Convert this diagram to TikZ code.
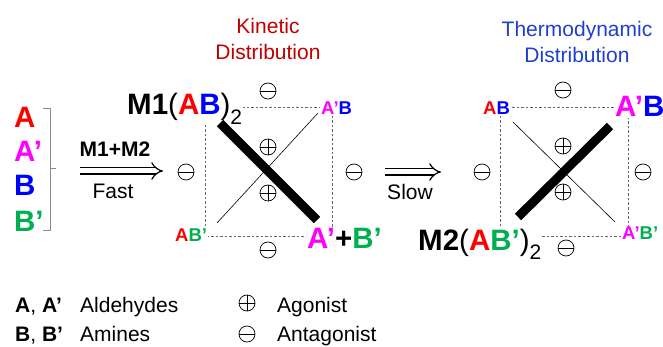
\documentclass[tikz,border=0pt]{standalone}
\usepackage{fontspec}
\setmainfont{Liberation Sans}
\usepackage{xcolor}
\usetikzlibrary{arrows.meta}

\definecolor{molRed}{HTML}{FF0000}
\definecolor{molMag}{HTML}{FF00FF}
\definecolor{molBlue}{HTML}{0000FF}
\definecolor{molGreen}{HTML}{00B050}
\definecolor{kinRed}{HTML}{C00000}
\definecolor{thermBlue}{HTML}{1F3FCF}

\newcommand{\subtwo}{\raisebox{-0.32em}{\fontsize{21}{21}\selectfont\mdseries 2}}
\newcommand{\aR}{{\color{molRed}A}}
\newcommand{\aM}{{\color{molMag}A’}}
\newcommand{\bB}{{\color{molBlue}B}}
\newcommand{\bG}{{\color{molGreen}B’}}

\begin{document}
\begin{tikzpicture}[x=1pt,y=-1pt,every node/.style={inner sep=1pt},
  big/.style={font=\fontsize{29.5}{30}\selectfont\bfseries,anchor=base west},
  small/.style={font=\fontsize{18.5}{20}\selectfont\bfseries,anchor=base west,fill=white},
  txt/.style={font=\fontsize{21}{26}\selectfont,align=center},
  cage/.style={draw=black!60,line width=0.8pt,dash pattern=on 2.5pt off 2pt},
  anta/.style={circle,draw,line width=0.7pt,minimum size=16pt,inner sep=0pt,
    path picture={\draw[line width=0.7pt] (path picture bounding box.west) -- (path picture bounding box.east);}},
  ago/.style={circle,draw,line width=0.7pt,minimum size=16pt,inner sep=0pt,
    path picture={\draw[line width=0.7pt] (path picture bounding box.west) -- (path picture bounding box.east);
      \draw[line width=0.7pt] (path picture bounding box.north) -- (path picture bounding box.south);}},
  goes/.style={double,double distance=5pt,line width=1.2pt,-{Implies}}]
\useasboundingbox (0,0) rectangle (663,347);

% building blocks
\node[big] (bA) at (13,128) {\aR};
\node[big] (bA2) at (13,162) {\aM};
\node[big] (bB) at (13,196) {\bB};
\node[big] (bB2) at (13,231) {\bG};
\draw[black!45,line width=0.8pt] (43,108) -- (50,108) -- (50,230) -- (43,230);
\draw[black!45,line width=0.8pt] (50,168) -- (56,168);

% fast step
\coordinate (fastS) at (80,171);
\coordinate (fastE) at (163,171);
\draw[goes] (fastS) -- (fastE);
\node[txt,font=\fontsize{21}{26}\selectfont\bfseries,anchor=base] (mix) at (115,157) {M1+M2};
\node[txt,anchor=base] (fast) at (113,199) {Fast};

% kinetic cage
\node[txt,text=kinRed] (kinT) at (268,39) {Kinetic\\Distribution};
\coordinate (kTL) at (205,107);
\coordinate (kBR) at (332,236);
\draw[cage] (kTL) rectangle (kBR);
\node[big,font=\fontsize{29.5}{30}\selectfont,fill=white] (m1) at (126,115) {\textbf{M1}(\textbf{\aR\bB})\subtwo};
\node[small] (kAB) at (320,115) {\aM\bB};
\node[small] (kAB2) at (174,241) {\aR\bG};
\node[big,fill=white] (kSum) at (306,248) {\aM+\bG};
\coordinate (kT1) at (217,223);
\coordinate (kT2) at (318,113);
\coordinate (kW1) at (220,123);
\coordinate (kW2) at (317,220);
\draw[line width=0.6pt] (kT1) -- (kT2);
\draw[line width=9pt] (kW1) -- (kW2);
\node[anta] (kN) at (268,91) {};
\node[anta] (kW) at (186,172) {};
\node[anta] (kE) at (354,172) {};
\node[anta] (kS) at (268,250) {};
\node[ago] (kP1) at (268,147) {};
\node[ago] (kP2) at (268,193) {};

% slow step
\coordinate (slowS) at (385,172);
\coordinate (slowE) at (441,172);
\draw[goes] (slowS) -- (slowE);
\node[txt,anchor=base] (slow) at (410,200) {Slow};

% thermodynamic cage
\node[txt,text=thermBlue] (thT) at (577,42) {Thermodynamic\\Distribution};
\coordinate (tTL) at (500,107);
\coordinate (tBR) at (628,236);
\draw[cage] (tTL) rectangle (tBR);
\node[small] (tAB) at (482,115) {\aR\bB};
\node[big,fill=white] (tAB3) at (614,117) {\aM\bB};
\node[small] (tAB4) at (621,240) {\aM\bG};
\node[big,font=\fontsize{29.5}{30}\selectfont,fill=white] (m2) at (417,250) {\textbf{M2}(\textbf{\aR\bG})\subtwo};
\coordinate (tT1) at (513,122);
\coordinate (tT2) at (615,222);
\coordinate (tW1) at (518,217);
\coordinate (tW2) at (610,126);
\draw[line width=0.6pt] (tT1) -- (tT2);
\draw[line width=9pt] (tW1) -- (tW2);
\node[anta] (tN) at (563,90) {};
\node[anta] (tW) at (482,172) {};
\node[anta] (tE) at (643,172) {};
\node[anta] (tS) at (566,248) {};
\node[ago] (tP1) at (563,146) {};
\node[ago] (tP2) at (563,192) {};

% legend
\node[txt,anchor=base west] (lgA) at (14,312) {\textbf{A}, \textbf{A’}};
\node[txt,anchor=base west] (lgAld) at (79,312) {Aldehydes};
\node[txt,anchor=base west] (lgB) at (14,341) {\textbf{B}, \textbf{B’}};
\node[txt,anchor=base west] (lgAm) at (79,341) {Amines};
\node[ago] (lgP) at (247,303) {};
\node[txt,anchor=base west] (lgAgo) at (276,312) {Agonist};
\node[anta] (lgM) at (247,334) {};
\node[txt,anchor=base west] (lgAnt) at (276,341) {Antagonist};
\end{tikzpicture}
\end{document}
